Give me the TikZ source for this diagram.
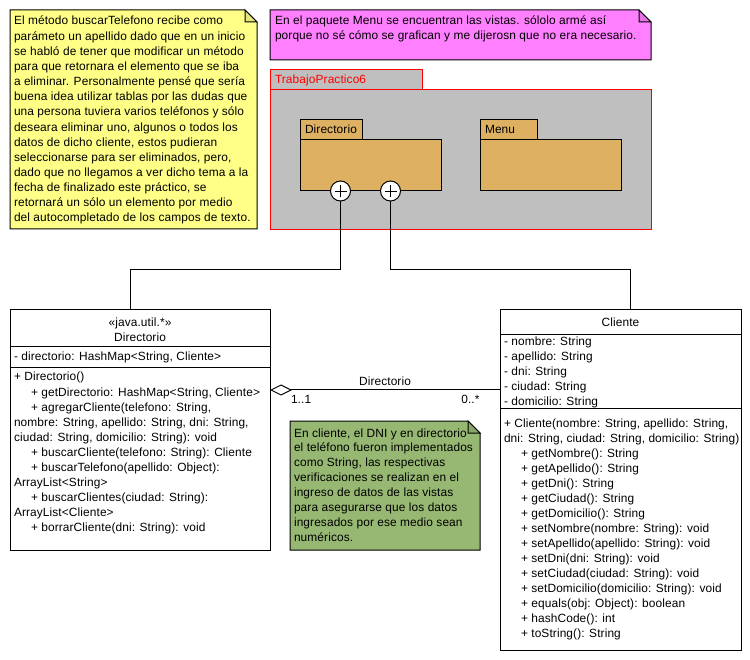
\documentclass[tikz,border=0pt]{standalone}
\usepackage{fontspec}
\setmainfont{Liberation Sans}[LetterSpace=0.9]
\usetikzlibrary{arrows.meta}

\definecolor{noteyellow}{HTML}{FFFF88}
\definecolor{foldyellow}{HTML}{E6E67A}
\definecolor{notepink}{HTML}{FF80FF}
\definecolor{foldpink}{HTML}{E673E6}
\definecolor{notegreen}{HTML}{97B872}
\definecolor{foldgreen}{HTML}{88A667}
\definecolor{pkggrey}{HTML}{BFBFBF}
\definecolor{pkgtan}{HTML}{DDB062}
\definecolor{pkgred}{HTML}{FF0000}

% note with a folded top-right corner, drawn around an empty node
\newcommand\foldnote[3]{%
  \filldraw[fill=#2] (#1.north west) -- ([xshift=-12pt]#1.north east)
    -- ([yshift=-12pt]#1.north east) -- (#1.south east) -- (#1.south west) -- cycle;
  \filldraw[fill=#3] ([xshift=-12pt]#1.north east) -- ([xshift=-12pt,yshift=-12pt]#1.north east)
    -- ([yshift=-12pt]#1.north east) -- cycle;}

\begin{document}
\begin{tikzpicture}[x=1pt,y=-1pt,line width=1pt,
  font=\fontsize{11.9}{14}\selectfont,
  txt/.style={anchor=base west,inner sep=0pt,outer sep=0pt},
  area/.style={anchor=north west,inner sep=0pt,outer sep=0pt,rectangle},
  pkgbox/.style={area,draw,fill=pkgtan},
  outerpkg/.style={area,draw=pkgred,fill=pkggrey},
  classbox/.style={area,draw,fill=white},
  plusport/.style={circle,draw,fill=white,minimum size=20pt,inner sep=0pt}]
\useasboundingbox (0,0) rectangle (750,660);
\fill[white] (0,0) rectangle (750,660);

% ---------- yellow note ----------
\node[area,minimum width=247pt,minimum height=219pt] (noteA) at (10,10) {};
\foldnote{noteA}{noteyellow}{foldyellow}
\foreach \s [count=\i from 0] in {
  {El método buscarTelefono recibe como},
  {parámeto un apellido dado que en un inicio},
  {se habló de tener que modificar un método},
  {para que retornara el elemento que se iba},
  {a eliminar. Personalmente pensé que sería},
  {buena idea utilizar tablas por las dudas que},
  {una persona tuviera varios teléfonos y sólo},
  {deseara eliminar uno, algunos o todos los},
  {datos de dicho cliente, estos pudieran},
  {seleccionarse para ser eliminados, pero,},
  {dado que no llegamos a ver dicho tema a la},
  {fecha de finalizado este práctico, se},
  {retornará un sólo un elemento por medio},
  {del autocompletado de los campos de texto.}}
  \node[txt] (na\i) at (14,{25+15.15*\i}) {\s};

% ---------- pink note ----------
\node[area,minimum width=381pt,minimum height=50pt] (noteB) at (270,10) {};
\foldnote{noteB}{notepink}{foldpink}
\node[txt] (nb0) at (275,25) {En el paquete Menu se encuentran las vistas. sólolo armé así};
\node[txt] (nb1) at (275,40) {porque no sé cómo se grafican y me dijerosn que no era necesario.};

% ---------- package TrabajoPractico6 ----------
\node[outerpkg,minimum width=152pt,minimum height=20pt] (tpTab) at (270,70) {};
\node[outerpkg,minimum width=381pt,minimum height=140pt] (tpBody) at (270,90) {};
\node[txt,text=pkgred] (tpName) at (275,84) {TrabajoPractico6};

\node[pkgbox,minimum width=62pt,minimum height=20pt] (dirTab) at (300,120) {};
\node[pkgbox,minimum width=141pt,minimum height=51pt] (dirPkg) at (300,140) {};
\node[txt] (dirPkgName) at (305,134) {Directorio};

\node[pkgbox,minimum width=57pt,minimum height=20pt] (menuTab) at (480,120) {};
\node[pkgbox,minimum width=141pt,minimum height=51pt] (menuPkg) at (480,140) {};
\node[txt] (menuPkgName) at (485,134) {Menu};

% ---------- class Directorio ----------
\node[classbox,minimum width=260pt,minimum height=240pt] (dirClass) at (10,310) {};
\draw (10,347) -- (270,347);
\draw (10,368) -- (270,368);
\node[anchor=base,inner sep=0pt] (dirStereo) at (140,327) {«java.util.*»};
\node[anchor=base,inner sep=0pt] (dirTitle) at (140,342) {Directorio};
\node[txt] (dirAttr) at (14,361) {- directorio: HashMap<String, Cliente>};
\foreach \dx/\s [count=\i from 0] in {
  0/{+ Directorio()},
  17/{+ getDirectorio: HashMap<String, Cliente>},
  17/{+ agregarCliente(telefono: String,},
  0/{nombre: String, apellido: String, dni: String,},
  0/{ciudad: String, domicilio: String): void},
  17/{+ buscarCliente(telefono: String): Cliente},
  17/{+ buscarTelefono(apellido: Object):},
  0/{ArrayList<String>},
  17/{+ buscarClientes(ciudad: String):},
  0/{ArrayList<Cliente>},
  17/{+ borrarCliente(dni: String): void}}
  \node[txt] (dm\i) at ({14+\dx},{381+15*\i}) {\s};

% ---------- class Cliente ----------
\node[classbox,minimum width=241pt,minimum height=340pt] (cliClass) at (500,310) {};
\draw (500,335) -- (741,335);
\draw (500,408) -- (741,408);
\node[anchor=base,inner sep=0pt] (cliTitle) at (620.5,327) {Cliente};
\foreach \s [count=\i from 0] in {
  {- nombre: String},{- apellido: String},{- dni: String},
  {- ciudad: String},{- domicilio: String}}
  \node[txt] (ca\i) at (504,{346+15*\i}) {\s};
\foreach \dx/\s [count=\i from 0] in {
  0/{+ Cliente(nombre: String, apellido: String,},
  0/{dni: String, ciudad: String, domicilio: String)},
  17/{+ getNombre(): String},
  17/{+ getApellido(): String},
  17/{+ getDni(): String},
  17/{+ getCiudad(): String},
  17/{+ getDomicilio(): String},
  17/{+ setNombre(nombre: String): void},
  17/{+ setApellido(apellido: String): void},
  17/{+ setDni(dni: String): void},
  17/{+ setCiudad(ciudad: String): void},
  17/{+ setDomicilio(domicilio: String): void},
  17/{+ equals(obj: Object): boolean},
  17/{+ hashCode(): int},
  17/{+ toString(): String}}
  \node[txt] (cm\i) at ({504+\dx},{427+15*\i}) {\s};

% ---------- green note ----------
\node[area,minimum width=190pt,minimum height=129pt] (noteC) at (290,421) {};
\foldnote{noteC}{notegreen}{foldgreen}
\foreach \s [count=\i from 0] in {
  {En cliente, el DNI y en directorio},
  {el teléfono fueron implementados},
  {como String, las respectivas},
  {verificaciones se realizan en el},
  {ingreso de datos de las vistas},
  {para asegurarse que los datos},
  {ingresados por ese medio sean},
  {numéricos.}}
  \node[txt] (nc\i) at (294,{437+14.95*\i}) {\s};

% ---------- containment links from the Directorio package ----------
\node[plusport] (plusA) at (340.5,191) {};
\node[plusport] (plusB) at (390.5,191) {};
\coordinate (kneeA) at (340.5,270);
\coordinate (kneeB) at (390.5,270);
\draw (plusA.south) -- (kneeA) -| ([xshift=-10pt]dirClass.north);
\draw (plusB.south) -- (kneeB) -| ([xshift=10pt]cliClass.north);
\foreach \p in {plusA,plusB}{
  \draw[line width=0.8pt] ([xshift=-6pt]\p.center) -- ([xshift=6pt]\p.center);
  \draw[line width=0.8pt] ([yshift=-6pt]\p.center) -- ([yshift=6pt]\p.center);}

% ---------- aggregation Directorio -> Cliente ----------
\coordinate (aggL) at (270,390);
\coordinate (aggR) at (500,390);
\draw[{Diamond[open,fill=white,length=22pt,width=11pt]}-] (aggL) -- (aggR);
\node[anchor=base,inner sep=0pt] (aggName) at (385,385) {Directorio};
\node[txt] (aggMultL) at (291,403) {1..1};
\node[anchor=base east,inner sep=0pt] (aggMultR) at (480,403) {0..*};

\end{tikzpicture}
\end{document}
